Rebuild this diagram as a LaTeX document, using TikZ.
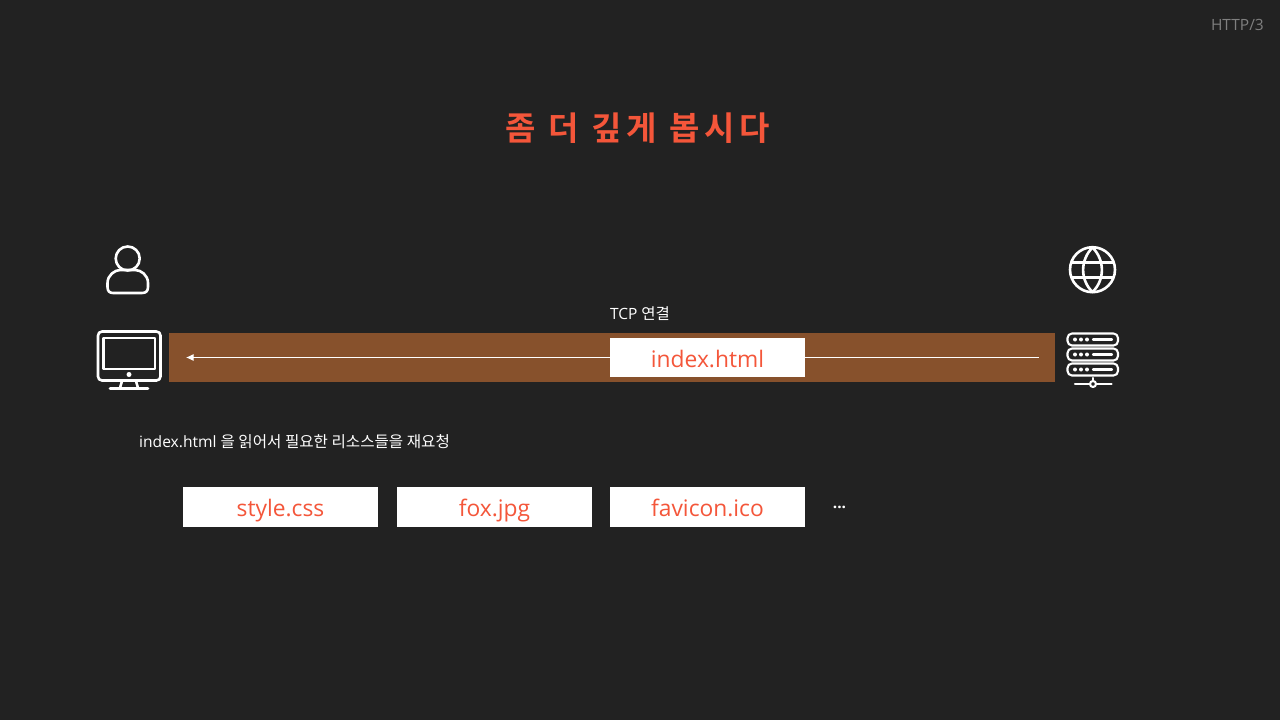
\documentclass[tikz,border=0pt]{standalone}
\usepackage{fontspec}
\usetikzlibrary{arrows.meta}
\setmainfont{Open Sans}
\newfontfamily\krfont{Noto Sans CJK KR}
\newfontfamily\krbold[LetterSpace=15]{Noto Sans CJK KR Bold}
\definecolor{bgc}{HTML}{222222}
\definecolor{barc}{HTML}{87512C}
\definecolor{accent}{HTML}{F4563A}
\definecolor{greytxt}{HTML}{7F7F7F}
\tikzset{
  filebox/.style={fill=white,minimum width=195pt,minimum height=39.5pt,inner sep=0pt,outer sep=0pt,text=accent,font=\fontsize{22.8}{23}\selectfont,text height=20.5pt,text depth=1.5pt},
  lab/.style={text=white,inner sep=0pt},
  icon/.style={draw=white,line width=2.6pt,line cap=round,line join=round},
  thin icon/.style={draw=white,line width=2.1pt,line cap=round,line join=round}
}
\begin{document}
\begin{tikzpicture}[x=1pt,y=-1pt]
\useasboundingbox (0,0) rectangle (1280,720);
\fill[bgc] (0,0) rectangle (1280,720);
\node[anchor=east,text=greytxt,inner sep=0pt,font=\fontsize{15.5}{16}\selectfont] (tag) at (1264,25) {HTTP/3};
\node[text=accent,inner sep=0pt,font=\fontsize{33}{33}\krbold] (title) at (638,128.5) {좀 더 깊게 봅시다};
% person
\draw[icon] (127.7,258.5) circle (12pt);
\draw[icon] (107.5,283) .. controls (107.5,275) and (115,270) .. (120,270) -- (135,270) .. controls (141,270) and (148,275) .. (148,283) -- (148,287) .. controls (148,291) and (146,293) .. (142,293) -- (113,293) .. controls (109.5,293) and (107.5,291) .. (107.5,287) -- cycle;
% monitor
\draw[icon,rounded corners=4pt] (98,331.5) rectangle (160.5,380.5);
\draw[icon] (103.5,338) rectangle (155,369);
\fill[white] (129,374.5) circle (2.5pt);
\draw[icon] (122,381) -- (120,388) (136,381) -- (138,388);
\draw[icon] (110,388.5) -- (148,388.5);
% globe
\draw[icon] (1092.5,269.7) circle (22.5pt);
\draw[icon] (1092.5,247.5) .. controls (1080,260) and (1080,280) .. (1092.5,292) .. controls (1105,280) and (1105,260) .. (1092.5,247.5);
\draw[icon] (1072,262.5) -- (1113,262.5) (1072,277.5) -- (1113,277.5);
% server
\foreach \y in {333.5,348.5,363.5}{
  \draw[thin icon,rounded corners=4.5pt] (1067.5,\y) rectangle (1118,\y+12);
  \foreach \x in {1075,1081,1087} \fill[white] (\x,\y+6) circle (2pt);
  \draw[thin icon] (1093,\y+6) -- (1112,\y+6);
}
\draw[thin icon] (1075,384) -- (1111.5,384);
\draw[thin icon,fill=bgc] (1093,384) circle (3pt);
\draw[thin icon] (1093,378) -- (1093,381);
% bar
\node[fill=barc,minimum width=886pt,minimum height=49pt,inner sep=0pt,outer sep=0pt] (bar) at (612,357.5) {};
\coordinate (src) at (1038.5,357.5);
\coordinate (dst) at (186,357.5);
\draw[white,line width=0.9pt,-{Latex[length=7.5pt,width=7pt]}] (src) -- (dst);
\node[filebox] (idx) at (707.5,357.5) {index.html};
\node[lab,font=\fontsize{15.5}{16}\selectfont] (tcp) at (640,314) {TCP {\krfont 연결}};
\node[lab,anchor=west,font=\fontsize{15.6}{16}\selectfont] (desc) at (139,441.5) {index.html {\krfont 을 읽어서 필요한 리소스들을 재요청}};
\node[filebox] (a) at (280.5,507) {style.css};
\node[filebox] (b) at (494.5,507) {fox.jpg};
\node[filebox] (c) at (707.5,507) {favicon.ico};
\node[lab,font=\bfseries\fontsize{15.5}{16}\selectfont] (more) at (839.5,507) {...};
\end{tikzpicture}
\end{document}
